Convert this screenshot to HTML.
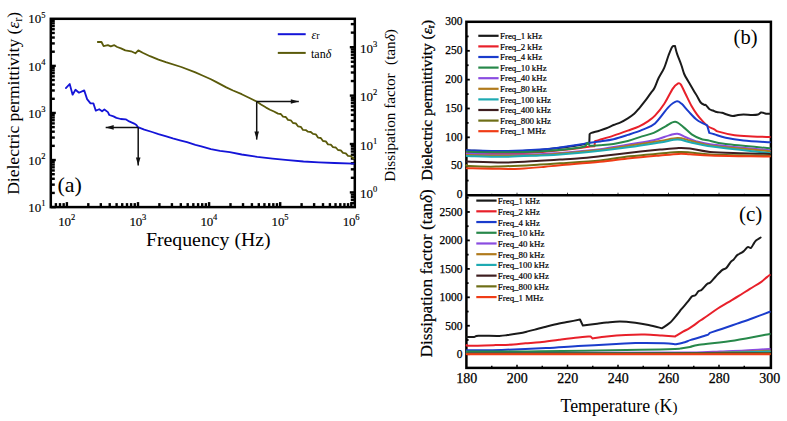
<!DOCTYPE html>
<html><head><meta charset="utf-8"><style>
html,body{margin:0;padding:0;background:#fff;width:787px;height:421px;overflow:hidden;font-family:"Liberation Serif",serif;}
svg{display:block;}
</style></head><body>
<svg width="787" height="421" viewBox="0 0 787 421">
<rect width="787" height="421" fill="#fff"/>
<line x1="50.80" y1="207.10" x2="55.80" y2="207.10" stroke="#000" stroke-width="2.4"/>
<line x1="50.80" y1="192.93" x2="54.80" y2="192.93" stroke="#000" stroke-width="2.4"/>
<line x1="50.80" y1="184.64" x2="54.80" y2="184.64" stroke="#000" stroke-width="2.4"/>
<line x1="50.80" y1="178.76" x2="54.80" y2="178.76" stroke="#000" stroke-width="2.4"/>
<line x1="50.80" y1="174.20" x2="54.80" y2="174.20" stroke="#000" stroke-width="2.4"/>
<line x1="50.80" y1="170.47" x2="54.80" y2="170.47" stroke="#000" stroke-width="2.4"/>
<line x1="50.80" y1="167.32" x2="54.80" y2="167.32" stroke="#000" stroke-width="2.4"/>
<line x1="50.80" y1="164.59" x2="54.80" y2="164.59" stroke="#000" stroke-width="2.4"/>
<line x1="50.80" y1="162.18" x2="54.80" y2="162.18" stroke="#000" stroke-width="2.4"/>
<line x1="50.80" y1="160.03" x2="55.80" y2="160.03" stroke="#000" stroke-width="2.4"/>
<line x1="50.80" y1="145.85" x2="54.80" y2="145.85" stroke="#000" stroke-width="2.4"/>
<line x1="50.80" y1="137.56" x2="54.80" y2="137.56" stroke="#000" stroke-width="2.4"/>
<line x1="50.80" y1="131.68" x2="54.80" y2="131.68" stroke="#000" stroke-width="2.4"/>
<line x1="50.80" y1="127.12" x2="54.80" y2="127.12" stroke="#000" stroke-width="2.4"/>
<line x1="50.80" y1="123.39" x2="54.80" y2="123.39" stroke="#000" stroke-width="2.4"/>
<line x1="50.80" y1="120.24" x2="54.80" y2="120.24" stroke="#000" stroke-width="2.4"/>
<line x1="50.80" y1="117.51" x2="54.80" y2="117.51" stroke="#000" stroke-width="2.4"/>
<line x1="50.80" y1="115.10" x2="54.80" y2="115.10" stroke="#000" stroke-width="2.4"/>
<line x1="50.80" y1="112.95" x2="55.80" y2="112.95" stroke="#000" stroke-width="2.4"/>
<line x1="50.80" y1="98.78" x2="54.80" y2="98.78" stroke="#000" stroke-width="2.4"/>
<line x1="50.80" y1="90.49" x2="54.80" y2="90.49" stroke="#000" stroke-width="2.4"/>
<line x1="50.80" y1="84.61" x2="54.80" y2="84.61" stroke="#000" stroke-width="2.4"/>
<line x1="50.80" y1="80.05" x2="54.80" y2="80.05" stroke="#000" stroke-width="2.4"/>
<line x1="50.80" y1="76.32" x2="54.80" y2="76.32" stroke="#000" stroke-width="2.4"/>
<line x1="50.80" y1="73.17" x2="54.80" y2="73.17" stroke="#000" stroke-width="2.4"/>
<line x1="50.80" y1="70.44" x2="54.80" y2="70.44" stroke="#000" stroke-width="2.4"/>
<line x1="50.80" y1="68.03" x2="54.80" y2="68.03" stroke="#000" stroke-width="2.4"/>
<line x1="50.80" y1="65.88" x2="55.80" y2="65.88" stroke="#000" stroke-width="2.4"/>
<line x1="50.80" y1="51.70" x2="54.80" y2="51.70" stroke="#000" stroke-width="2.4"/>
<line x1="50.80" y1="43.41" x2="54.80" y2="43.41" stroke="#000" stroke-width="2.4"/>
<line x1="50.80" y1="37.53" x2="54.80" y2="37.53" stroke="#000" stroke-width="2.4"/>
<line x1="50.80" y1="32.97" x2="54.80" y2="32.97" stroke="#000" stroke-width="2.4"/>
<line x1="50.80" y1="29.24" x2="54.80" y2="29.24" stroke="#000" stroke-width="2.4"/>
<line x1="50.80" y1="26.09" x2="54.80" y2="26.09" stroke="#000" stroke-width="2.4"/>
<line x1="50.80" y1="23.36" x2="54.80" y2="23.36" stroke="#000" stroke-width="2.4"/>
<line x1="50.80" y1="20.95" x2="54.80" y2="20.95" stroke="#000" stroke-width="2.4"/>
<line x1="55.89" y1="207.10" x2="55.89" y2="203.10" stroke="#000" stroke-width="2.4"/>
<line x1="60.01" y1="207.10" x2="60.01" y2="203.10" stroke="#000" stroke-width="2.4"/>
<line x1="63.65" y1="207.10" x2="63.65" y2="203.10" stroke="#000" stroke-width="2.4"/>
<line x1="66.90" y1="207.10" x2="66.90" y2="202.10" stroke="#000" stroke-width="2.4"/>
<line x1="88.30" y1="207.10" x2="88.30" y2="203.10" stroke="#000" stroke-width="2.4"/>
<line x1="100.82" y1="207.10" x2="100.82" y2="203.10" stroke="#000" stroke-width="2.4"/>
<line x1="109.71" y1="207.10" x2="109.71" y2="203.10" stroke="#000" stroke-width="2.4"/>
<line x1="116.60" y1="207.10" x2="116.60" y2="203.10" stroke="#000" stroke-width="2.4"/>
<line x1="122.23" y1="207.10" x2="122.23" y2="203.10" stroke="#000" stroke-width="2.4"/>
<line x1="126.99" y1="207.10" x2="126.99" y2="203.10" stroke="#000" stroke-width="2.4"/>
<line x1="131.11" y1="207.10" x2="131.11" y2="203.10" stroke="#000" stroke-width="2.4"/>
<line x1="134.75" y1="207.10" x2="134.75" y2="203.10" stroke="#000" stroke-width="2.4"/>
<line x1="138.00" y1="207.10" x2="138.00" y2="202.10" stroke="#000" stroke-width="2.4"/>
<line x1="159.40" y1="207.10" x2="159.40" y2="203.10" stroke="#000" stroke-width="2.4"/>
<line x1="171.92" y1="207.10" x2="171.92" y2="203.10" stroke="#000" stroke-width="2.4"/>
<line x1="180.81" y1="207.10" x2="180.81" y2="203.10" stroke="#000" stroke-width="2.4"/>
<line x1="187.70" y1="207.10" x2="187.70" y2="203.10" stroke="#000" stroke-width="2.4"/>
<line x1="193.33" y1="207.10" x2="193.33" y2="203.10" stroke="#000" stroke-width="2.4"/>
<line x1="198.09" y1="207.10" x2="198.09" y2="203.10" stroke="#000" stroke-width="2.4"/>
<line x1="202.21" y1="207.10" x2="202.21" y2="203.10" stroke="#000" stroke-width="2.4"/>
<line x1="205.85" y1="207.10" x2="205.85" y2="203.10" stroke="#000" stroke-width="2.4"/>
<line x1="209.10" y1="207.10" x2="209.10" y2="202.10" stroke="#000" stroke-width="2.4"/>
<line x1="230.50" y1="207.10" x2="230.50" y2="203.10" stroke="#000" stroke-width="2.4"/>
<line x1="243.02" y1="207.10" x2="243.02" y2="203.10" stroke="#000" stroke-width="2.4"/>
<line x1="251.91" y1="207.10" x2="251.91" y2="203.10" stroke="#000" stroke-width="2.4"/>
<line x1="258.80" y1="207.10" x2="258.80" y2="203.10" stroke="#000" stroke-width="2.4"/>
<line x1="264.43" y1="207.10" x2="264.43" y2="203.10" stroke="#000" stroke-width="2.4"/>
<line x1="269.19" y1="207.10" x2="269.19" y2="203.10" stroke="#000" stroke-width="2.4"/>
<line x1="273.31" y1="207.10" x2="273.31" y2="203.10" stroke="#000" stroke-width="2.4"/>
<line x1="276.95" y1="207.10" x2="276.95" y2="203.10" stroke="#000" stroke-width="2.4"/>
<line x1="280.20" y1="207.10" x2="280.20" y2="202.10" stroke="#000" stroke-width="2.4"/>
<line x1="301.60" y1="207.10" x2="301.60" y2="203.10" stroke="#000" stroke-width="2.4"/>
<line x1="314.12" y1="207.10" x2="314.12" y2="203.10" stroke="#000" stroke-width="2.4"/>
<line x1="323.01" y1="207.10" x2="323.01" y2="203.10" stroke="#000" stroke-width="2.4"/>
<line x1="329.90" y1="207.10" x2="329.90" y2="203.10" stroke="#000" stroke-width="2.4"/>
<line x1="335.53" y1="207.10" x2="335.53" y2="203.10" stroke="#000" stroke-width="2.4"/>
<line x1="340.29" y1="207.10" x2="340.29" y2="203.10" stroke="#000" stroke-width="2.4"/>
<line x1="344.41" y1="207.10" x2="344.41" y2="203.10" stroke="#000" stroke-width="2.4"/>
<line x1="348.05" y1="207.10" x2="348.05" y2="203.10" stroke="#000" stroke-width="2.4"/>
<line x1="351.30" y1="207.10" x2="351.30" y2="202.10" stroke="#000" stroke-width="2.4"/>
<line x1="354.80" y1="203.14" x2="350.80" y2="203.14" stroke="#000" stroke-width="2.4"/>
<line x1="354.80" y1="199.90" x2="350.80" y2="199.90" stroke="#000" stroke-width="2.4"/>
<line x1="354.80" y1="197.09" x2="350.80" y2="197.09" stroke="#000" stroke-width="2.4"/>
<line x1="354.80" y1="194.61" x2="350.80" y2="194.61" stroke="#000" stroke-width="2.4"/>
<line x1="354.80" y1="192.40" x2="349.80" y2="192.40" stroke="#000" stroke-width="2.4"/>
<line x1="354.80" y1="177.83" x2="350.80" y2="177.83" stroke="#000" stroke-width="2.4"/>
<line x1="354.80" y1="169.31" x2="350.80" y2="169.31" stroke="#000" stroke-width="2.4"/>
<line x1="354.80" y1="163.26" x2="350.80" y2="163.26" stroke="#000" stroke-width="2.4"/>
<line x1="354.80" y1="158.57" x2="350.80" y2="158.57" stroke="#000" stroke-width="2.4"/>
<line x1="354.80" y1="154.74" x2="350.80" y2="154.74" stroke="#000" stroke-width="2.4"/>
<line x1="354.80" y1="151.50" x2="350.80" y2="151.50" stroke="#000" stroke-width="2.4"/>
<line x1="354.80" y1="148.69" x2="350.80" y2="148.69" stroke="#000" stroke-width="2.4"/>
<line x1="354.80" y1="146.21" x2="350.80" y2="146.21" stroke="#000" stroke-width="2.4"/>
<line x1="354.80" y1="144.00" x2="349.80" y2="144.00" stroke="#000" stroke-width="2.4"/>
<line x1="354.80" y1="129.43" x2="350.80" y2="129.43" stroke="#000" stroke-width="2.4"/>
<line x1="354.80" y1="120.91" x2="350.80" y2="120.91" stroke="#000" stroke-width="2.4"/>
<line x1="354.80" y1="114.86" x2="350.80" y2="114.86" stroke="#000" stroke-width="2.4"/>
<line x1="354.80" y1="110.17" x2="350.80" y2="110.17" stroke="#000" stroke-width="2.4"/>
<line x1="354.80" y1="106.34" x2="350.80" y2="106.34" stroke="#000" stroke-width="2.4"/>
<line x1="354.80" y1="103.10" x2="350.80" y2="103.10" stroke="#000" stroke-width="2.4"/>
<line x1="354.80" y1="100.29" x2="350.80" y2="100.29" stroke="#000" stroke-width="2.4"/>
<line x1="354.80" y1="97.81" x2="350.80" y2="97.81" stroke="#000" stroke-width="2.4"/>
<line x1="354.80" y1="95.60" x2="349.80" y2="95.60" stroke="#000" stroke-width="2.4"/>
<line x1="354.80" y1="81.03" x2="350.80" y2="81.03" stroke="#000" stroke-width="2.4"/>
<line x1="354.80" y1="72.51" x2="350.80" y2="72.51" stroke="#000" stroke-width="2.4"/>
<line x1="354.80" y1="66.46" x2="350.80" y2="66.46" stroke="#000" stroke-width="2.4"/>
<line x1="354.80" y1="61.77" x2="350.80" y2="61.77" stroke="#000" stroke-width="2.4"/>
<line x1="354.80" y1="57.94" x2="350.80" y2="57.94" stroke="#000" stroke-width="2.4"/>
<line x1="354.80" y1="54.70" x2="350.80" y2="54.70" stroke="#000" stroke-width="2.4"/>
<line x1="354.80" y1="51.89" x2="350.80" y2="51.89" stroke="#000" stroke-width="2.4"/>
<line x1="354.80" y1="49.41" x2="350.80" y2="49.41" stroke="#000" stroke-width="2.4"/>
<line x1="354.80" y1="47.20" x2="349.80" y2="47.20" stroke="#000" stroke-width="2.4"/>
<line x1="354.80" y1="32.63" x2="350.80" y2="32.63" stroke="#000" stroke-width="2.4"/>
<line x1="354.80" y1="24.11" x2="350.80" y2="24.11" stroke="#000" stroke-width="2.4"/>
<rect x="50.8" y="18.8" width="304.0" height="188.29999999999998" fill="none" stroke="#000" stroke-width="2.5"/>
<text x="45.5" y="211.7" font-family="Liberation Serif" font-size="13" text-anchor="end" stroke="#000" stroke-width="0.15">10<tspan dy="-5.5" font-size="8.5">1</tspan></text>
<text x="45.5" y="164.6" font-family="Liberation Serif" font-size="13" text-anchor="end" stroke="#000" stroke-width="0.15">10<tspan dy="-5.5" font-size="8.5">2</tspan></text>
<text x="45.5" y="117.5" font-family="Liberation Serif" font-size="13" text-anchor="end" stroke="#000" stroke-width="0.15">10<tspan dy="-5.5" font-size="8.5">3</tspan></text>
<text x="45.5" y="70.5" font-family="Liberation Serif" font-size="13" text-anchor="end" stroke="#000" stroke-width="0.15">10<tspan dy="-5.5" font-size="8.5">4</tspan></text>
<text x="45.5" y="23.4" font-family="Liberation Serif" font-size="13" text-anchor="end" stroke="#000" stroke-width="0.15">10<tspan dy="-5.5" font-size="8.5">5</tspan></text>
<text x="359.9" y="197.9" font-family="Liberation Serif" font-size="13" text-anchor="start" stroke="#000" stroke-width="0.15">10<tspan dy="-5.8" font-size="8.5">0</tspan></text>
<text x="359.9" y="149.5" font-family="Liberation Serif" font-size="13" text-anchor="start" stroke="#000" stroke-width="0.15">10<tspan dy="-5.8" font-size="8.5">1</tspan></text>
<text x="359.9" y="101.1" font-family="Liberation Serif" font-size="13" text-anchor="start" stroke="#000" stroke-width="0.15">10<tspan dy="-5.8" font-size="8.5">2</tspan></text>
<text x="359.9" y="52.7" font-family="Liberation Serif" font-size="13" text-anchor="start" stroke="#000" stroke-width="0.15">10<tspan dy="-5.8" font-size="8.5">3</tspan></text>
<text x="58.3" y="225.6" font-family="Liberation Serif" font-size="13" text-anchor="start" letter-spacing="-0.2" stroke="#000" stroke-width="0.15">10<tspan dy="-5.5" font-size="8.5">2</tspan></text>
<text x="129.4" y="225.6" font-family="Liberation Serif" font-size="13" text-anchor="start" letter-spacing="-0.2" stroke="#000" stroke-width="0.15">10<tspan dy="-5.5" font-size="8.5">3</tspan></text>
<text x="200.5" y="225.6" font-family="Liberation Serif" font-size="13" text-anchor="start" letter-spacing="-0.2" stroke="#000" stroke-width="0.15">10<tspan dy="-5.5" font-size="8.5">4</tspan></text>
<text x="271.6" y="225.6" font-family="Liberation Serif" font-size="13" text-anchor="start" letter-spacing="-0.2" stroke="#000" stroke-width="0.15">10<tspan dy="-5.5" font-size="8.5">5</tspan></text>
<text x="342.7" y="225.6" font-family="Liberation Serif" font-size="13" text-anchor="start" letter-spacing="-0.2" stroke="#000" stroke-width="0.15">10<tspan dy="-5.5" font-size="8.5">6</tspan></text>
<text transform="translate(19,103.3) rotate(-90)" font-family="Liberation Serif" font-size="17.5" text-anchor="middle">Dielectric permittivity (<tspan font-style="italic">ε</tspan><tspan font-size="12" dy="2.5">r</tspan><tspan dy="-2.5">)</tspan></text>
<text x="208.3" y="246" font-family="Liberation Serif" font-size="19.8" text-anchor="middle">Frequency (Hz)</text>
<text transform="translate(394.6,105.5) rotate(-90)" font-family="Liberation Serif" font-size="15.2" text-anchor="middle">Dissipation factor<tspan dx="8.5">(tan</tspan><tspan font-style="italic">δ</tspan>)</text>
<text x="57.50" y="192.00" font-family="Liberation Serif" font-size="22" font-weight="normal" text-anchor="start" >(a)</text>
<line x1="277.80" y1="34.20" x2="305.70" y2="34.20" stroke="#1414d8" stroke-width="2.0"/>
<text x="311.5" y="38.8" font-family="Liberation Serif" font-size="12" font-style="italic">ε<tspan font-style="normal" font-size="10">r</tspan></text>
<line x1="277.80" y1="52.90" x2="305.70" y2="52.90" stroke="#5a5a0a" stroke-width="2.0"/>
<text x="311" y="57.5" font-family="Liberation Serif" font-size="12">tan<tspan font-style="italic">δ</tspan></text>
<polyline points="65.9,88.1 69.7,84.0 72.6,94.7 75.5,89.8 79.0,92.7 84.2,90.4 87.1,99.1 90.5,103.4 93.4,103.4 95.8,110.7 99.2,109.2 102.1,111.3 104.4,109.5 107.9,112.1 109.3,115.0 113.5,116.4 116.4,117.9 120.7,119.0 125.7,119.3 129.2,121.4 134.2,123.6 136.4,125.0 137.8,127.1 144.3,129.6 152.1,132.0 158.5,134.1 166.3,136.4 172.8,138.4 180.0,140.3 187.0,142.2 195.4,144.8 201.3,146.3 210.9,149.1 220.0,150.9 229.8,152.1 241.7,154.5 257.2,156.9 272.6,158.7 288.1,160.2 303.5,161.5 318.9,162.4 334.4,163.0 353.5,163.7" fill="none" stroke="#1414d8" stroke-width="1.8" stroke-linejoin="round" stroke-linecap="round" />
<polyline points="97.8,42.0 101.5,42.0 103.6,46.1 107.9,45.2 110.8,46.4 114.3,45.2 117.2,47.0 121.0,48.4 125.3,50.4 131.1,51.3 135.4,53.3 138.3,50.4 142.7,52.8 150.0,56.2 158.5,59.6 165.8,62.2 181.3,67.0 195.4,72.4 201.3,75.0 210.9,79.2 215.5,81.6 226.3,87.4 233.0,90.5 241.7,94.2 250.0,98.2 256.7,101.5 261.0,104.5 266.1,107.6 270.0,109.7 274.0,111.5 278.0,113.6 280.8,114.0 283.0,116.6 285.8,117.0 288.0,119.9 290.8,120.3 293.0,123.0 295.8,123.4 298.0,126.3 300.8,126.8 303.0,129.9 305.8,130.1 308.0,131.7 310.8,132.0 313.0,133.9 315.8,134.3 318.0,137.6 320.8,138.0 323.0,141.0 325.8,141.4 328.0,144.4 330.8,144.7 333.0,147.2 335.8,147.5 338.0,150.0 340.8,150.3 343.0,152.9 345.8,153.3 348.0,155.8 350.8,156.1 353.0,158.2 353.3,158.2 353.5,158.4" fill="none" stroke="#5a5a0a" stroke-width="1.8" stroke-linejoin="round" stroke-linecap="round" />
<line x1="138.20" y1="127.40" x2="105.70" y2="127.40" stroke="#111" stroke-width="1.5"/>
<polygon points="105.7,127.4 113.7,125.1 113.7,129.7" fill="#111"/>
<line x1="138.20" y1="127.40" x2="138.20" y2="165.60" stroke="#111" stroke-width="1.5"/>
<polygon points="138.2,165.6 135.9,157.6 140.5,157.6" fill="#111"/>
<line x1="256.70" y1="101.50" x2="298.80" y2="101.50" stroke="#111" stroke-width="1.5"/>
<polygon points="298.8,101.5 290.8,103.8 290.8,99.2" fill="#111"/>
<line x1="256.70" y1="101.50" x2="256.70" y2="139.60" stroke="#111" stroke-width="1.5"/>
<polygon points="256.7,139.6 254.4,131.6 259.0,131.6" fill="#111"/>
<line x1="466.40" y1="180.58" x2="468.60" y2="180.58" stroke="#000" stroke-width="1.8"/>
<line x1="466.40" y1="166.16" x2="469.80" y2="166.16" stroke="#000" stroke-width="1.8"/>
<line x1="466.40" y1="151.75" x2="468.60" y2="151.75" stroke="#000" stroke-width="1.8"/>
<line x1="466.40" y1="137.33" x2="469.80" y2="137.33" stroke="#000" stroke-width="1.8"/>
<line x1="466.40" y1="122.91" x2="468.60" y2="122.91" stroke="#000" stroke-width="1.8"/>
<line x1="466.40" y1="108.50" x2="469.80" y2="108.50" stroke="#000" stroke-width="1.8"/>
<line x1="466.40" y1="94.08" x2="468.60" y2="94.08" stroke="#000" stroke-width="1.8"/>
<line x1="466.40" y1="79.66" x2="469.80" y2="79.66" stroke="#000" stroke-width="1.8"/>
<line x1="466.40" y1="65.24" x2="468.60" y2="65.24" stroke="#000" stroke-width="1.8"/>
<line x1="466.40" y1="50.82" x2="469.80" y2="50.82" stroke="#000" stroke-width="1.8"/>
<line x1="466.40" y1="36.41" x2="468.60" y2="36.41" stroke="#000" stroke-width="1.8"/>
<line x1="491.75" y1="195.20" x2="491.75" y2="193.70" stroke="#444" stroke-width="1"/>
<line x1="517.00" y1="195.20" x2="517.00" y2="192.70" stroke="#444" stroke-width="1"/>
<line x1="542.25" y1="195.20" x2="542.25" y2="193.70" stroke="#444" stroke-width="1"/>
<line x1="567.50" y1="195.20" x2="567.50" y2="192.70" stroke="#444" stroke-width="1"/>
<line x1="592.75" y1="195.20" x2="592.75" y2="193.70" stroke="#444" stroke-width="1"/>
<line x1="618.00" y1="195.20" x2="618.00" y2="192.70" stroke="#444" stroke-width="1"/>
<line x1="643.25" y1="195.20" x2="643.25" y2="193.70" stroke="#444" stroke-width="1"/>
<line x1="668.50" y1="195.20" x2="668.50" y2="192.70" stroke="#444" stroke-width="1"/>
<line x1="693.75" y1="195.20" x2="693.75" y2="193.70" stroke="#444" stroke-width="1"/>
<line x1="719.00" y1="195.20" x2="719.00" y2="192.70" stroke="#444" stroke-width="1"/>
<line x1="744.25" y1="195.20" x2="744.25" y2="193.70" stroke="#444" stroke-width="1"/>
<line x1="466.40" y1="354.20" x2="469.80" y2="354.20" stroke="#000" stroke-width="1.8"/>
<line x1="466.40" y1="339.98" x2="468.60" y2="339.98" stroke="#000" stroke-width="1.8"/>
<line x1="466.40" y1="325.75" x2="469.80" y2="325.75" stroke="#000" stroke-width="1.8"/>
<line x1="466.40" y1="311.53" x2="468.60" y2="311.53" stroke="#000" stroke-width="1.8"/>
<line x1="466.40" y1="297.31" x2="469.80" y2="297.31" stroke="#000" stroke-width="1.8"/>
<line x1="466.40" y1="283.09" x2="468.60" y2="283.09" stroke="#000" stroke-width="1.8"/>
<line x1="466.40" y1="268.87" x2="469.80" y2="268.87" stroke="#000" stroke-width="1.8"/>
<line x1="466.40" y1="254.64" x2="468.60" y2="254.64" stroke="#000" stroke-width="1.8"/>
<line x1="466.40" y1="240.42" x2="469.80" y2="240.42" stroke="#000" stroke-width="1.8"/>
<line x1="466.40" y1="226.20" x2="468.60" y2="226.20" stroke="#000" stroke-width="1.8"/>
<line x1="466.40" y1="211.97" x2="469.80" y2="211.97" stroke="#000" stroke-width="1.8"/>
<line x1="466.40" y1="197.75" x2="468.60" y2="197.75" stroke="#000" stroke-width="1.8"/>
<line x1="491.75" y1="367.90" x2="491.75" y2="365.70" stroke="#000" stroke-width="1.5"/>
<line x1="517.00" y1="367.90" x2="517.00" y2="364.70" stroke="#000" stroke-width="1.5"/>
<line x1="542.25" y1="367.90" x2="542.25" y2="365.70" stroke="#000" stroke-width="1.5"/>
<line x1="567.50" y1="367.90" x2="567.50" y2="364.70" stroke="#000" stroke-width="1.5"/>
<line x1="592.75" y1="367.90" x2="592.75" y2="365.70" stroke="#000" stroke-width="1.5"/>
<line x1="618.00" y1="367.90" x2="618.00" y2="364.70" stroke="#000" stroke-width="1.5"/>
<line x1="643.25" y1="367.90" x2="643.25" y2="365.70" stroke="#000" stroke-width="1.5"/>
<line x1="668.50" y1="367.90" x2="668.50" y2="364.70" stroke="#000" stroke-width="1.5"/>
<line x1="693.75" y1="367.90" x2="693.75" y2="365.70" stroke="#000" stroke-width="1.5"/>
<line x1="719.00" y1="367.90" x2="719.00" y2="364.70" stroke="#000" stroke-width="1.5"/>
<line x1="744.25" y1="367.90" x2="744.25" y2="365.70" stroke="#000" stroke-width="1.5"/>
<rect x="466.4" y="21.8" width="304.5" height="346.09999999999997" fill="none" stroke="#000" stroke-width="2.5"/>
<line x1="466.40" y1="195.20" x2="770.90" y2="195.20" stroke="#000" stroke-width="2.4"/>
<text x="462.40" y="198.30" font-family="Liberation Serif" font-size="11.5" font-weight="normal" text-anchor="end" stroke="#000" stroke-width="0.25">0</text>
<text x="462.40" y="169.47" font-family="Liberation Serif" font-size="11.5" font-weight="normal" text-anchor="end" stroke="#000" stroke-width="0.25">50</text>
<text x="462.40" y="140.63" font-family="Liberation Serif" font-size="11.5" font-weight="normal" text-anchor="end" stroke="#000" stroke-width="0.25">100</text>
<text x="462.40" y="111.80" font-family="Liberation Serif" font-size="11.5" font-weight="normal" text-anchor="end" stroke="#000" stroke-width="0.25">150</text>
<text x="462.40" y="82.96" font-family="Liberation Serif" font-size="11.5" font-weight="normal" text-anchor="end" stroke="#000" stroke-width="0.25">200</text>
<text x="462.40" y="54.12" font-family="Liberation Serif" font-size="11.5" font-weight="normal" text-anchor="end" stroke="#000" stroke-width="0.25">250</text>
<text x="462.40" y="25.29" font-family="Liberation Serif" font-size="11.5" font-weight="normal" text-anchor="end" stroke="#000" stroke-width="0.25">300</text>
<text x="462.40" y="358.20" font-family="Liberation Serif" font-size="11.5" font-weight="normal" text-anchor="end" stroke="#000" stroke-width="0.25">0</text>
<text x="462.40" y="329.75" font-family="Liberation Serif" font-size="11.5" font-weight="normal" text-anchor="end" stroke="#000" stroke-width="0.25">500</text>
<text x="462.40" y="301.31" font-family="Liberation Serif" font-size="11.5" font-weight="normal" text-anchor="end" stroke="#000" stroke-width="0.25">1000</text>
<text x="462.40" y="272.87" font-family="Liberation Serif" font-size="11.5" font-weight="normal" text-anchor="end" stroke="#000" stroke-width="0.25">1500</text>
<text x="462.40" y="244.42" font-family="Liberation Serif" font-size="11.5" font-weight="normal" text-anchor="end" stroke="#000" stroke-width="0.25">2000</text>
<text x="462.40" y="215.97" font-family="Liberation Serif" font-size="11.5" font-weight="normal" text-anchor="end" stroke="#000" stroke-width="0.25">2500</text>
<text x="466.80" y="383.20" font-family="Liberation Serif" font-size="14" font-weight="normal" text-anchor="middle" stroke="#000" stroke-width="0.25">180</text>
<text x="517.30" y="383.20" font-family="Liberation Serif" font-size="14" font-weight="normal" text-anchor="middle" stroke="#000" stroke-width="0.25">200</text>
<text x="567.80" y="383.20" font-family="Liberation Serif" font-size="14" font-weight="normal" text-anchor="middle" stroke="#000" stroke-width="0.25">220</text>
<text x="618.30" y="383.20" font-family="Liberation Serif" font-size="14" font-weight="normal" text-anchor="middle" stroke="#000" stroke-width="0.25">240</text>
<text x="668.80" y="383.20" font-family="Liberation Serif" font-size="14" font-weight="normal" text-anchor="middle" stroke="#000" stroke-width="0.25">260</text>
<text x="719.30" y="383.20" font-family="Liberation Serif" font-size="14" font-weight="normal" text-anchor="middle" stroke="#000" stroke-width="0.25">280</text>
<text x="769.80" y="383.20" font-family="Liberation Serif" font-size="14" font-weight="normal" text-anchor="middle" stroke="#000" stroke-width="0.25">300</text>
<text x="619" y="411.5" font-family="Liberation Serif" font-size="17.8" text-anchor="middle">Temperature <tspan font-size="15">(</tspan>K<tspan font-size="15">)</tspan></text>
<text transform="translate(432.3,100.2) rotate(-90)" font-family="Liberation Serif" font-size="15.4" stroke="#000" stroke-width="0.3" text-anchor="middle">Dielectric permittivity (<tspan font-style="italic">ε</tspan><tspan font-size="9.5" dy="2">r</tspan><tspan dy="-2">)</tspan></text>
<text transform="translate(432.3,273.4) rotate(-90)" font-family="Liberation Serif" font-size="17.3" stroke="#000" stroke-width="0.2" text-anchor="middle">Dissipation factor (tan<tspan font-style="italic">δ</tspan>)</text>
<text x="733.60" y="44.00" font-family="Liberation Serif" font-size="20.5" font-weight="normal" text-anchor="start" >(b)</text>
<text x="739.00" y="221.00" font-family="Liberation Serif" font-size="21" font-weight="normal" text-anchor="start" >(c)</text>
<line x1="478.30" y1="35.80" x2="498.60" y2="35.80" stroke="#1a1a1a" stroke-width="2.2"/>
<text x="500.00" y="39.00" font-family="Liberation Serif" font-size="8.9" font-weight="normal" text-anchor="start" stroke="#000" stroke-width="0.2">Freq_1 kHz</text>
<line x1="476.30" y1="200.60" x2="496.60" y2="200.60" stroke="#1a1a1a" stroke-width="2.2"/>
<text x="497.80" y="204.10" font-family="Liberation Serif" font-size="8.9" font-weight="normal" text-anchor="start" stroke="#000" stroke-width="0.2">Freq_1 kHz</text>
<line x1="478.30" y1="46.40" x2="498.60" y2="46.40" stroke="#e8202a" stroke-width="2.2"/>
<text x="500.00" y="49.60" font-family="Liberation Serif" font-size="8.9" font-weight="normal" text-anchor="start" stroke="#000" stroke-width="0.2">Freq_2 kHz</text>
<line x1="476.30" y1="211.32" x2="496.60" y2="211.32" stroke="#e8202a" stroke-width="2.2"/>
<text x="497.80" y="214.82" font-family="Liberation Serif" font-size="8.9" font-weight="normal" text-anchor="start" stroke="#000" stroke-width="0.2">Freq_2 kHz</text>
<line x1="478.30" y1="57.00" x2="498.60" y2="57.00" stroke="#1a3ccc" stroke-width="2.2"/>
<text x="500.00" y="60.20" font-family="Liberation Serif" font-size="8.9" font-weight="normal" text-anchor="start" stroke="#000" stroke-width="0.2">Freq_4 kHz</text>
<line x1="476.30" y1="222.04" x2="496.60" y2="222.04" stroke="#1a3ccc" stroke-width="2.2"/>
<text x="497.80" y="225.54" font-family="Liberation Serif" font-size="8.9" font-weight="normal" text-anchor="start" stroke="#000" stroke-width="0.2">Freq_4 kHz</text>
<line x1="478.30" y1="67.60" x2="498.60" y2="67.60" stroke="#27884a" stroke-width="2.2"/>
<text x="500.00" y="70.80" font-family="Liberation Serif" font-size="8.9" font-weight="normal" text-anchor="start" stroke="#000" stroke-width="0.2">Freq_10 kHz</text>
<line x1="476.30" y1="232.76" x2="496.60" y2="232.76" stroke="#27884a" stroke-width="2.2"/>
<text x="497.80" y="236.26" font-family="Liberation Serif" font-size="8.9" font-weight="normal" text-anchor="start" stroke="#000" stroke-width="0.2">Freq_10 kHz</text>
<line x1="478.30" y1="78.20" x2="498.60" y2="78.20" stroke="#8a4ce0" stroke-width="2.2"/>
<text x="500.00" y="81.40" font-family="Liberation Serif" font-size="8.9" font-weight="normal" text-anchor="start" stroke="#000" stroke-width="0.2">Freq_40 kHz</text>
<line x1="476.30" y1="243.48" x2="496.60" y2="243.48" stroke="#8a4ce0" stroke-width="2.2"/>
<text x="497.80" y="246.98" font-family="Liberation Serif" font-size="8.9" font-weight="normal" text-anchor="start" stroke="#000" stroke-width="0.2">Freq_40 kHz</text>
<line x1="478.30" y1="88.80" x2="498.60" y2="88.80" stroke="#b07a1c" stroke-width="2.2"/>
<text x="500.00" y="92.00" font-family="Liberation Serif" font-size="8.9" font-weight="normal" text-anchor="start" stroke="#000" stroke-width="0.2">Freq_80 kHz</text>
<line x1="476.30" y1="254.20" x2="496.60" y2="254.20" stroke="#b07a1c" stroke-width="2.2"/>
<text x="497.80" y="257.70" font-family="Liberation Serif" font-size="8.9" font-weight="normal" text-anchor="start" stroke="#000" stroke-width="0.2">Freq_80 kHz</text>
<line x1="478.30" y1="99.40" x2="498.60" y2="99.40" stroke="#1eaab2" stroke-width="2.2"/>
<text x="500.00" y="102.60" font-family="Liberation Serif" font-size="8.9" font-weight="normal" text-anchor="start" stroke="#000" stroke-width="0.2">Freq_100 kHz</text>
<line x1="476.30" y1="264.92" x2="496.60" y2="264.92" stroke="#1eaab2" stroke-width="2.2"/>
<text x="497.80" y="268.42" font-family="Liberation Serif" font-size="8.9" font-weight="normal" text-anchor="start" stroke="#000" stroke-width="0.2">Freq_100 kHz</text>
<line x1="478.30" y1="110.00" x2="498.60" y2="110.00" stroke="#3e1e20" stroke-width="2.2"/>
<text x="500.00" y="113.20" font-family="Liberation Serif" font-size="8.9" font-weight="normal" text-anchor="start" stroke="#000" stroke-width="0.2">Freq_400 kHz</text>
<line x1="476.30" y1="275.64" x2="496.60" y2="275.64" stroke="#3e1e20" stroke-width="2.2"/>
<text x="497.80" y="279.14" font-family="Liberation Serif" font-size="8.9" font-weight="normal" text-anchor="start" stroke="#000" stroke-width="0.2">Freq_400 kHz</text>
<line x1="478.30" y1="120.60" x2="498.60" y2="120.60" stroke="#6e6e16" stroke-width="2.2"/>
<text x="500.00" y="123.80" font-family="Liberation Serif" font-size="8.9" font-weight="normal" text-anchor="start" stroke="#000" stroke-width="0.2">Freq_800 kHz</text>
<line x1="476.30" y1="286.36" x2="496.60" y2="286.36" stroke="#6e6e16" stroke-width="2.2"/>
<text x="497.80" y="289.86" font-family="Liberation Serif" font-size="8.9" font-weight="normal" text-anchor="start" stroke="#000" stroke-width="0.2">Freq_800 kHz</text>
<line x1="478.30" y1="131.20" x2="498.60" y2="131.20" stroke="#f03c16" stroke-width="2.2"/>
<text x="500.00" y="134.40" font-family="Liberation Serif" font-size="8.9" font-weight="normal" text-anchor="start" stroke="#000" stroke-width="0.2">Freq_1 MHz</text>
<line x1="476.30" y1="297.08" x2="496.60" y2="297.08" stroke="#f03c16" stroke-width="2.2"/>
<text x="497.80" y="300.58" font-family="Liberation Serif" font-size="8.9" font-weight="normal" text-anchor="start" stroke="#000" stroke-width="0.2">Freq_1 MHz</text>
<path d="M466.80,150.60 C473.17,150.75 492.80,151.60 505.00,151.50 C517.20,151.40 530.83,150.62 540.00,150.00 C549.17,149.38 553.33,148.65 560.00,147.80 C566.67,146.95 575.12,145.65 580.00,144.90 C584.88,144.15 587.75,143.57 589.30,143.30 L589.60,134.20 C589.90,133.98 589.78,133.48 591.40,132.90 C593.02,132.32 596.80,131.47 599.30,130.70 C601.80,129.93 604.03,129.25 606.40,128.30 C608.77,127.35 611.13,126.00 613.50,125.00 C615.87,124.00 618.22,123.42 620.60,122.30 C622.98,121.18 625.53,119.72 627.80,118.30 C630.07,116.88 632.30,115.47 634.20,113.80 C636.10,112.13 637.42,110.40 639.20,108.30 C640.98,106.20 643.00,103.70 644.90,101.20 C646.80,98.70 649.03,95.45 650.60,93.30 C652.17,91.15 652.98,90.80 654.30,88.30 C655.62,85.80 656.85,81.72 658.50,78.30 C660.15,74.88 662.53,71.60 664.20,67.80 C665.87,64.00 667.15,59.00 668.50,55.50 C669.85,52.00 671.22,48.37 672.30,46.80 C673.38,45.23 674.55,46.22 675.00,46.10 L675.00,46.10 C675.33,47.35 675.95,50.45 677.00,53.60 C678.05,56.75 680.10,61.60 681.30,65.00 C682.50,68.40 683.12,71.42 684.20,74.00 C685.28,76.58 686.83,78.78 687.80,80.50 C688.77,82.22 688.93,82.48 690.00,84.30 C691.07,86.12 693.03,89.45 694.20,91.40 C695.37,93.35 695.92,94.15 697.00,96.00 C698.08,97.85 699.48,101.03 700.70,102.50 C701.92,103.97 703.42,104.35 704.30,104.80 C705.18,105.25 705.12,104.45 706.00,105.20 C706.88,105.95 708.43,108.42 709.60,109.30 C710.77,110.18 711.82,110.05 713.00,110.50 C714.18,110.95 715.20,111.62 716.70,112.00 C718.20,112.38 720.28,112.38 722.00,112.80 C723.72,113.22 725.20,113.97 727.00,114.50 C728.80,115.03 730.97,115.92 732.80,116.00 C734.63,116.08 736.22,115.23 738.00,115.00 C739.78,114.77 741.08,114.60 743.50,114.60 C745.92,114.60 750.08,115.02 752.50,115.00 C754.92,114.98 756.58,114.92 758.00,114.50 C759.42,114.08 760.15,112.78 761.00,112.50 C761.85,112.22 762.27,112.58 763.10,112.80 C763.93,113.02 764.88,113.65 766.00,113.80 C767.12,113.95 769.17,113.72 769.80,113.70" fill="none" stroke="#1a1a1a" stroke-width="2.0" stroke-linejoin="round" stroke-linecap="round"/>
<path d="M466.80,152.80 C473.17,152.90 492.80,153.50 505.00,153.40 C517.20,153.30 530.83,152.72 540.00,152.20 C549.17,151.68 553.33,151.00 560.00,150.30 C566.67,149.60 575.00,148.63 580.00,148.00 C585.00,147.37 587.58,146.79 590.00,146.50 C592.42,146.21 593.75,146.30 594.50,146.26 L595.00,141.17 C595.72,140.96 596.22,140.83 599.30,139.90 C602.38,138.97 608.75,137.15 613.50,135.60 C618.25,134.05 623.52,132.15 627.80,130.60 C632.08,129.05 635.85,127.85 639.20,126.30 C642.55,124.75 645.27,123.08 647.90,121.30 C650.53,119.52 652.27,118.53 655.00,115.60 C657.73,112.67 661.33,108.20 664.30,103.70 C667.27,99.20 670.55,91.95 672.80,88.60 C675.05,85.25 676.48,84.32 677.80,83.60 C679.12,82.88 679.38,82.52 680.70,84.30 C682.02,86.08 683.92,90.73 685.70,94.30 C687.48,97.87 689.50,102.32 691.40,105.70 C693.30,109.08 695.20,111.98 697.10,114.60 C699.00,117.22 701.02,119.47 702.80,121.40 C704.58,123.33 705.88,124.88 707.80,126.20 C709.72,127.52 712.52,128.40 714.30,129.30 C716.08,130.20 715.12,130.62 718.50,131.60 C721.88,132.58 728.93,134.40 734.60,135.20 C740.27,136.00 746.63,136.10 752.50,136.40 C758.37,136.70 766.92,136.90 769.80,137.00" fill="none" stroke="#e8202a" stroke-width="2.0" stroke-linejoin="round" stroke-linecap="round"/>
<path d="M466.80,150.20 C473.17,150.35 492.80,151.20 505.00,151.10 C517.20,151.00 530.83,150.20 540.00,149.60 C549.17,149.00 553.33,148.33 560.00,147.50 C566.67,146.67 575.33,145.37 580.00,144.60 C584.67,143.83 584.67,143.43 588.00,142.90 C591.33,142.37 595.75,142.04 600.00,141.42 C604.25,140.80 608.87,140.29 613.50,139.20 C618.13,138.11 623.03,136.45 627.80,134.90 C632.57,133.35 637.57,131.82 642.10,129.90 C646.63,127.98 650.60,127.20 655.00,123.40 C659.40,119.60 664.93,110.77 668.50,107.10 C672.07,103.43 674.25,101.98 676.40,101.40 C678.55,100.82 679.38,101.93 681.40,103.60 C683.42,105.27 685.88,108.67 688.50,111.40 C691.12,114.13 694.00,117.68 697.10,120.00 C700.20,122.32 705.43,124.42 707.10,125.30 L709.30,132.90 C710.13,133.13 711.57,133.48 714.30,134.30 C717.03,135.12 720.83,136.77 725.70,137.80 C730.57,138.83 736.15,139.75 743.50,140.50 C750.85,141.25 765.42,142.00 769.80,142.30" fill="none" stroke="#1a3ccc" stroke-width="2.0" stroke-linejoin="round" stroke-linecap="round"/>
<path d="M466.80,151.80 C473.17,151.88 492.80,152.35 505.00,152.30 C517.20,152.25 530.83,151.88 540.00,151.50 C549.17,151.12 553.33,150.67 560.00,150.00 C566.67,149.33 575.75,148.17 580.00,147.50 C584.25,146.83 584.58,146.25 585.50,146.00 L587.50,142.90 L590.00,145.80 C591.67,145.69 596.08,145.49 600.00,145.17 C603.92,144.85 608.87,144.59 613.50,143.90 C618.13,143.21 623.07,142.25 627.80,141.00 C632.53,139.75 637.58,137.75 641.90,136.40 C646.22,135.05 649.75,134.58 653.70,132.90 C657.65,131.22 662.03,128.15 665.60,126.30 C669.17,124.45 672.13,121.67 675.10,121.80 C678.07,121.93 680.63,125.02 683.40,127.10 C686.17,129.18 688.73,132.32 691.70,134.30 C694.67,136.28 698.52,138.02 701.20,139.00 C703.88,139.98 703.72,139.35 707.80,140.20 C711.88,141.05 715.37,142.77 725.70,144.10 C736.03,145.43 762.45,147.52 769.80,148.20" fill="none" stroke="#27884a" stroke-width="2.0" stroke-linejoin="round" stroke-linecap="round"/>
<path d="M466.80,153.80 C473.17,153.92 492.80,154.43 505.00,154.50 C517.20,154.57 530.83,154.47 540.00,154.20 C549.17,153.93 553.33,153.40 560.00,152.90 C566.67,152.40 573.33,151.82 580.00,151.20 C586.67,150.58 591.67,150.35 600.00,149.20 C608.33,148.05 621.05,145.80 630.00,144.30 C638.95,142.80 647.17,141.68 653.70,140.20 C660.23,138.72 665.23,136.48 669.20,135.40 C673.17,134.32 674.73,133.40 677.50,133.70 C680.27,134.00 682.63,135.92 685.80,137.20 C688.97,138.48 692.47,140.22 696.50,141.40 C700.53,142.58 702.75,143.28 710.00,144.30 C717.25,145.32 730.03,146.50 740.00,147.50 C749.97,148.50 764.83,149.83 769.80,150.30" fill="none" stroke="#8a4ce0" stroke-width="2.0" stroke-linejoin="round" stroke-linecap="round"/>
<path d="M466.80,155.00 C473.17,155.10 492.80,155.60 505.00,155.60 C517.20,155.60 530.83,155.33 540.00,155.00 C549.17,154.67 550.00,154.43 560.00,153.60 C570.00,152.77 588.33,151.35 600.00,150.00 C611.67,148.65 620.00,147.00 630.00,145.50 C640.00,144.00 652.08,142.23 660.00,141.00 C667.92,139.77 672.50,138.18 677.50,138.10 C682.50,138.02 684.58,139.27 690.00,140.50 C695.42,141.73 701.67,144.15 710.00,145.50 C718.33,146.85 730.03,147.65 740.00,148.60 C749.97,149.55 764.83,150.77 769.80,151.20" fill="none" stroke="#b07a1c" stroke-width="2.0" stroke-linejoin="round" stroke-linecap="round"/>
<path d="M466.80,156.00 C473.17,156.13 492.80,156.90 505.00,156.80 C517.20,156.70 530.83,155.77 540.00,155.40 C549.17,155.03 550.00,155.37 560.00,154.60 C570.00,153.83 588.33,152.05 600.00,150.80 C611.67,149.55 620.00,148.48 630.00,147.10 C640.00,145.72 652.08,143.75 660.00,142.50 C667.92,141.25 672.50,139.63 677.50,139.60 C682.50,139.57 684.95,141.25 690.00,142.30 C695.05,143.35 699.47,144.65 707.80,145.90 C716.13,147.15 729.67,148.62 740.00,149.80 C750.33,150.98 764.83,152.47 769.80,153.00" fill="none" stroke="#1eaab2" stroke-width="2.0" stroke-linejoin="round" stroke-linecap="round"/>
<path d="M466.80,161.60 C473.17,161.77 492.80,162.73 505.00,162.60 C517.20,162.47 530.83,161.30 540.00,160.80 C549.17,160.30 553.33,160.02 560.00,159.60 C566.67,159.18 573.33,158.87 580.00,158.30 C586.67,157.73 591.67,157.13 600.00,156.20 C608.33,155.27 620.00,153.80 630.00,152.70 C640.00,151.60 651.87,150.38 660.00,149.60 C668.13,148.82 673.80,148.18 678.80,148.00 C683.80,147.82 684.80,147.85 690.00,148.50 C695.20,149.15 701.67,151.12 710.00,151.90 C718.33,152.68 730.03,152.87 740.00,153.20 C749.97,153.53 764.83,153.78 769.80,153.90" fill="none" stroke="#3e1e20" stroke-width="2.0" stroke-linejoin="round" stroke-linecap="round"/>
<path d="M466.80,165.00 C467.17,165.17 464.13,165.73 469.00,166.00 C473.87,166.27 484.17,166.83 496.00,166.60 C507.83,166.37 529.33,165.15 540.00,164.60 C550.67,164.05 550.00,164.00 560.00,163.30 C570.00,162.60 588.33,161.57 600.00,160.40 C611.67,159.23 620.00,157.43 630.00,156.30 C640.00,155.17 651.87,154.30 660.00,153.60 C668.13,152.90 673.80,152.28 678.80,152.10 C683.80,151.92 684.80,152.10 690.00,152.50 C695.20,152.90 701.67,154.03 710.00,154.50 C718.33,154.97 730.03,155.10 740.00,155.30 C749.97,155.50 764.83,155.63 769.80,155.70" fill="none" stroke="#6e6e16" stroke-width="2.0" stroke-linejoin="round" stroke-linecap="round"/>
<path d="M466.80,168.20 C471.67,168.30 487.13,168.72 496.00,168.80 C504.87,168.88 511.83,169.03 520.00,168.70 C528.17,168.37 538.33,167.38 545.00,166.80 C551.67,166.22 550.83,166.03 560.00,165.20 C569.17,164.37 588.33,162.97 600.00,161.80 C611.67,160.63 620.00,159.27 630.00,158.20 C640.00,157.13 651.87,156.12 660.00,155.40 C668.13,154.68 673.80,154.08 678.80,153.90 C683.80,153.72 684.80,154.03 690.00,154.30 C695.20,154.57 701.67,155.18 710.00,155.50 C718.33,155.82 730.03,156.02 740.00,156.20 C749.97,156.38 764.83,156.53 769.80,156.60" fill="none" stroke="#f03c16" stroke-width="2.0" stroke-linejoin="round" stroke-linecap="round"/>
<path d="M466.80,336.90 C468.00,336.90 472.05,337.08 474.00,336.90 C475.95,336.72 474.28,335.97 478.50,335.80 C482.72,335.63 494.45,336.03 499.30,335.90 C504.15,335.77 504.25,335.45 507.60,335.00 C510.95,334.55 516.05,333.80 519.40,333.20 C522.75,332.60 524.73,332.10 527.70,331.40 C530.67,330.70 534.15,329.78 537.20,329.00 C540.25,328.22 542.35,327.62 546.00,326.70 C549.65,325.78 555.33,324.32 559.10,323.50 C562.87,322.68 565.12,322.47 568.60,321.80 C572.08,321.13 578.10,319.88 580.00,319.50 L582.90,325.60 C585.28,325.28 593.23,324.22 597.20,323.70 C601.17,323.18 602.90,322.88 606.70,322.50 C610.50,322.12 615.23,321.37 620.00,321.40 C624.77,321.43 630.53,322.10 635.30,322.70 C640.07,323.30 644.15,324.07 648.60,325.00 C653.05,325.93 659.77,327.75 662.00,328.30 L662.00,328.30 C663.27,327.43 667.07,325.40 669.60,323.10 C672.13,320.80 675.23,316.82 677.20,314.50 C679.17,312.18 679.63,311.33 681.40,309.20 C683.17,307.07 686.02,303.85 687.80,301.70 C689.58,299.55 690.85,297.37 692.10,296.30 C693.35,295.23 694.23,296.13 695.30,295.30 C696.37,294.47 697.43,292.23 698.50,291.30 C699.57,290.37 700.27,290.96 701.70,289.74 C703.13,288.52 705.67,285.21 707.10,284.00 C708.53,282.79 708.87,283.75 710.30,282.50 C711.73,281.25 713.73,278.57 715.70,276.50 C717.67,274.43 720.33,271.52 722.10,270.10 C723.87,268.68 724.88,269.34 726.30,268.00 C727.72,266.66 729.35,263.52 730.60,262.08 C731.85,260.64 732.73,260.49 733.80,259.34 C734.87,258.19 736.10,256.09 737.00,255.20 C737.90,254.31 738.12,254.63 739.20,254.00 C740.28,253.37 742.08,252.55 743.50,251.40 C744.92,250.25 746.45,247.70 747.70,247.10 C748.95,246.50 749.92,248.52 751.00,247.80 C752.08,247.08 753.32,244.05 754.20,242.80 C755.08,241.55 755.23,241.18 756.30,240.30 C757.37,239.42 759.88,237.97 760.60,237.50" fill="none" stroke="#1a1a1a" stroke-width="2.0" stroke-linejoin="round" stroke-linecap="round"/>
<path d="M466.80,345.10 C467.27,345.20 464.77,345.70 469.60,345.70 C474.43,345.70 488.47,345.30 495.80,345.10 C503.13,344.90 508.65,344.80 513.60,344.50 C518.55,344.20 521.10,343.68 525.50,343.30 C529.90,342.92 534.40,342.80 540.00,342.20 C545.60,341.60 552.75,340.50 559.10,339.70 C565.45,338.90 572.87,337.95 578.10,337.40 C583.33,336.85 588.43,336.57 590.50,336.40 L592.40,338.40 C594.78,338.07 601.13,336.98 606.70,336.40 C612.27,335.82 619.45,335.22 625.80,334.90 C632.15,334.58 638.77,334.40 644.80,334.50 C650.83,334.60 656.92,335.18 662.00,335.50 C667.08,335.82 673.08,336.25 675.30,336.40 L675.30,336.40 C676.58,335.62 680.55,333.12 683.00,331.70 C685.45,330.28 687.05,329.80 690.00,327.90 C692.95,326.00 697.85,322.28 700.70,320.30 C703.55,318.32 704.25,317.97 707.10,316.00 C709.95,314.03 714.23,310.82 717.80,308.50 C721.37,306.18 724.93,304.23 728.50,302.10 C732.07,299.97 735.63,297.92 739.20,295.70 C742.77,293.48 746.33,291.02 749.90,288.80 C753.47,286.58 757.75,284.35 760.60,282.40 C763.45,280.45 765.47,278.33 767.00,277.10 C768.53,275.87 769.33,275.35 769.80,275.00" fill="none" stroke="#e8202a" stroke-width="2.0" stroke-linejoin="round" stroke-linecap="round"/>
<path d="M466.80,350.30 C468.65,350.30 472.08,350.37 477.90,350.30 C483.72,350.23 490.35,350.27 501.70,349.90 C513.05,349.53 533.27,348.75 546.00,348.10 C558.73,347.45 566.40,346.67 578.10,346.00 C589.80,345.33 606.67,344.58 616.20,344.10 C625.73,343.62 627.35,343.23 635.30,343.10 C643.25,342.97 657.22,343.10 663.90,343.30 C670.58,343.50 673.48,344.13 675.40,344.30 L675.40,344.30 C676.97,343.95 682.22,342.93 684.80,342.20 C687.38,341.47 687.32,341.05 690.90,339.90 C694.48,338.75 703.37,336.22 706.30,335.30 C709.23,334.38 708.13,334.55 708.50,334.40 L709.80,332.90 C711.78,332.25 717.13,330.55 721.70,329.00 C726.27,327.45 732.05,325.40 737.20,323.60 C742.35,321.80 747.17,320.17 752.60,318.20 C758.03,316.23 766.93,312.87 769.80,311.80" fill="none" stroke="#1a3ccc" stroke-width="2.0" stroke-linejoin="round" stroke-linecap="round"/>
<path d="M466.80,351.60 C479.00,351.55 511.13,351.60 540.00,351.30 C568.87,351.00 617.50,350.18 640.00,349.80 C662.50,349.42 668.33,349.22 675.00,349.00 C681.67,348.78 679.17,348.58 680.00,348.50 L680.00,348.50 C681.67,348.23 686.82,347.53 690.00,346.90 C693.18,346.27 691.65,345.77 699.10,344.70 C706.55,343.63 722.92,342.28 734.70,340.50 C746.48,338.72 763.95,335.08 769.80,334.00" fill="none" stroke="#27884a" stroke-width="2.0" stroke-linejoin="round" stroke-linecap="round"/>
<path d="M466.80,353.00 C489.00,352.97 562.80,352.87 600.00,352.80 C637.20,352.73 670.00,352.82 690.00,352.60 C710.00,352.38 710.83,351.85 720.00,351.50 C729.17,351.15 736.70,350.92 745.00,350.50 C753.30,350.08 765.67,349.25 769.80,349.00" fill="none" stroke="#8a4ce0" stroke-width="2.0" stroke-linejoin="round" stroke-linecap="round"/>
<path d="M466.80,353.40 C504.00,353.33 646.13,353.20 690.00,353.00 C733.87,352.80 716.70,352.57 730.00,352.20 C743.30,351.83 763.17,351.03 769.80,350.80" fill="none" stroke="#b07a1c" stroke-width="2.0" stroke-linejoin="round" stroke-linecap="round"/>
<path d="M466.80,353.30 C504.00,353.25 646.13,353.13 690.00,353.00 C733.87,352.87 716.70,352.73 730.00,352.50 C743.30,352.27 763.17,351.75 769.80,351.60" fill="none" stroke="#1eaab2" stroke-width="2.0" stroke-linejoin="round" stroke-linecap="round"/>
<path d="M466.80,353.60 C517.30,353.53 719.30,353.27 769.80,353.20" fill="none" stroke="#3e1e20" stroke-width="2.0" stroke-linejoin="round" stroke-linecap="round"/>
<path d="M466.80,353.80 C517.30,353.77 719.30,353.63 769.80,353.60" fill="none" stroke="#6e6e16" stroke-width="2.0" stroke-linejoin="round" stroke-linecap="round"/>
<path d="M466.80,354.30 C517.30,354.30 719.30,354.30 769.80,354.30" fill="none" stroke="#f03c16" stroke-width="2.0" stroke-linejoin="round" stroke-linecap="round"/>
</svg>
</body></html>
